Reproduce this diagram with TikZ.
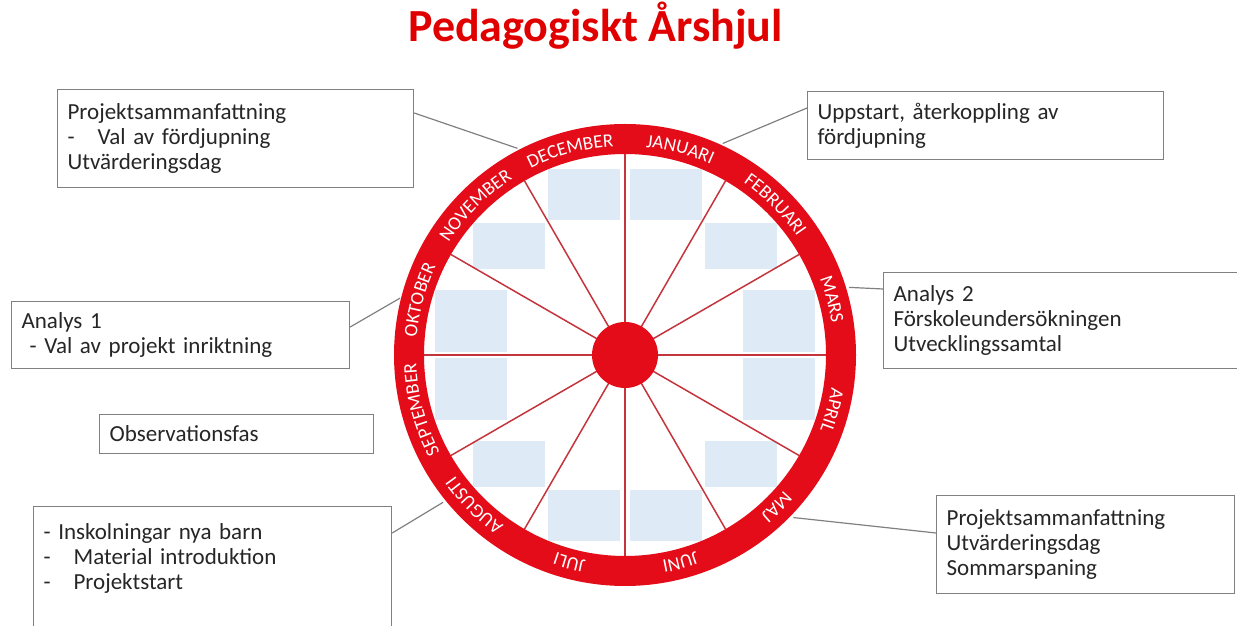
\documentclass[tikz,border=0pt]{standalone}
\usepackage{fontspec}
\setmainfont{Carlito}
\usetikzlibrary{decorations.text}

\definecolor{ringred}{RGB}{227,12,24}
\definecolor{titlered}{RGB}{224,0,0}
\definecolor{spokered}{RGB}{196,52,60}
\definecolor{paleblue}{RGB}{222,235,247}
\definecolor{framegray}{RGB}{128,128,128}
\definecolor{inkgray}{RGB}{38,38,38}

\newcommand\boxfont{\fontsize{23pt}{25pt}\selectfont}
\newcommand\monthfont{\fontsize{19pt}{19pt}\selectfont}

\tikzset{
  infobox/.style={draw=framegray, line width=1.2pt, fill=white, anchor=north west,
    inner xsep=10pt, inner ysep=0pt, align=left, font=\boxfont, text=inkgray},
  lead/.style={draw=framegray, line width=1.2pt},
  spoke/.style={draw=spokered, line width=1.5pt},
}

\begin{document}
\begin{tikzpicture}[x=1pt, y=1pt]
  \useasboundingbox (0,0) rectangle (1237,626);
  \clip (0,0) rectangle (1237,626);

  % the wheel
  \begin{scope}[shift={(625,271)}]
    \coordinate (hub) at (0,0);
    \foreach \sx in {-1,1}
      \foreach \sy in {-1,1}{
        \begin{scope}[xscale=\sx, yscale=\sy]
          \fill[paleblue] (5,135) rectangle (77,186);
          \fill[paleblue] (80,86) rectangle (152,132);
          \fill[paleblue] (118,3) rectangle (190,65);
        \end{scope}
      }
    \foreach \a in {0,30,...,330}
      \draw[spoke] (hub) -- (\a:201pt);
    \draw[ringred, line width=30pt] (hub) circle[radius=216pt];
    \fill[ringred] (hub) circle[radius=33pt];

    \foreach \m [count=\i] in {JANUARI,FEBRUARI,MARS,APRIL,MAJ,JUNI,JULI,AUGUSTI,SEPTEMBER,OKTOBER,NOVEMBER,DECEMBER}{
      \pgfmathsetmacro\a{105-30*\i}
      \path[decorate, decoration={text along path, text align=center, text color=white,
          text/.expanded={|\noexpand\monthfont|\m}}]
        ({\a+17}:209pt) arc[start angle=\a+17, end angle=\a-17, radius=209pt];
    }

    \coordinate (dec) at (117.5:233pt);
    \coordinate (jan) at (65.2:233pt);
    \coordinate (okt) at (165.8:232pt);
    \coordinate (mars) at (16.8:234pt);
    \coordinate (aug) at (219:234pt);
    \coordinate (maj) at (-44:234pt);
  \end{scope}

  \node[font=\fontsize{46pt}{52pt}\selectfont\bfseries, text=titlered, anchor=base]
    (title) at (595.5,584) {Pedagogiskt Årshjul};

  % text boxes
  \node[infobox, text width=336pt, minimum height=98pt] (recapdec) at (57,537)
    {Projektsammanfattning\\\makebox[30pt][l]{-}Val av fördjupning\\Utvärderingsdag};
  \node[infobox, text width=336pt, minimum height=68pt] (startjan) at (807,535)
    {Uppstart, återkoppling av\\fördjupning};
  \node[infobox, text width=318pt, minimum height=67pt] (analys1) at (11,325)
    {Analys 1\\\hspace*{8pt}- Val av projekt inriktning};
  \node[infobox, text width=254pt, minimum height=39pt] (observ) at (99,212)
    {Observationsfas};
  \node[infobox, text width=342pt, minimum height=96pt] (analys2) at (883,354)
    {Analys 2\\Förskoleundersökningen\\Utvecklingssamtal};
  \node[infobox, text width=338pt, minimum height=124pt] (intro) at (33,120)
    {- Inskolningar nya barn\\\makebox[30pt][l]{-}Material introduktion\\\makebox[30pt][l]{-}Projektstart\\\mbox{}};
  \node[infobox, text width=278pt, minimum height=98pt] (recapmaj) at (936,131)
    {Projektsammanfattning\\Utvärderingsdag\\Sommarspaning};

  % leader lines
  \draw[lead] ([yshift=-24pt]recapdec.north east) -- (dec);
  \draw[lead] ([yshift=-17pt]startjan.north west) -- (jan);
  \draw[lead] ([yshift=-26pt]analys1.north east) -- (okt);
  \draw[lead] ([yshift=-17pt]analys2.north west) -- (mars);
  \draw[lead] ([yshift=-27pt]intro.north east) -- (aug);
  \draw[lead] ([yshift=-38pt]recapmaj.north west) -- (maj);
\end{tikzpicture}
\end{document}
